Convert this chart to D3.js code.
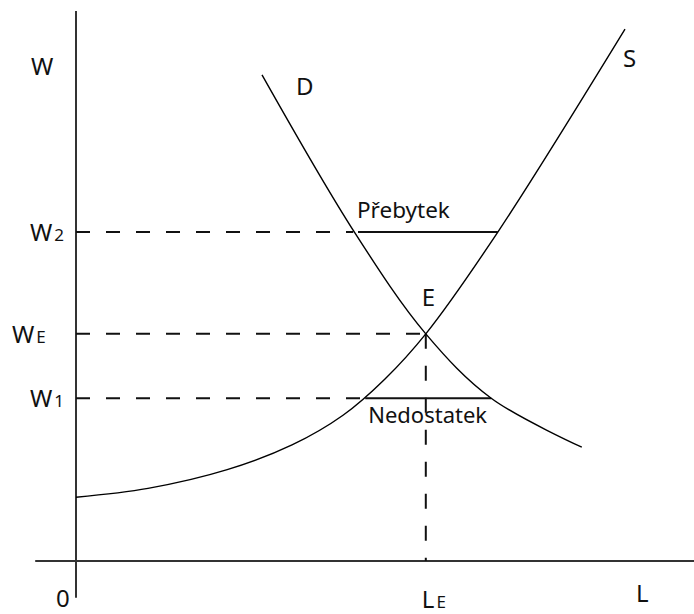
<!DOCTYPE html>
<html>
<head>
<meta charset="utf-8">
<script src="https://cdn.jsdelivr.net/npm/d3@7"></script>
<style>
    body { margin: 0; background: #fff; }
    text { font-family: "Noto Sans", "Open Sans", sans-serif; fill: #111; }
</style>
</head>
<body>
<div id="chart-area"></div>
<script>
/*
*    labour market: supply / demand
*/

// supply curve S (L, W)
const supplyL = [0, 12, 25.2, 36, 44.5, 51.5, 58.3, 70.3, 91.5];
const supplyW = [11.6, 13.2, 16.6, 21.1, 26.5, 33.1, 41.3, 59.8, 96.7];

// demand curve D (L, W)
const demandL = [31, 46.4, 58.3, 69.2, 84.3];
const demandW = [88.4, 59.8, 41.3, 29.6, 20.7];

// wage levels and their labels
const wageNames = ["W", "W", "W"];
const wageValues = [59.8, 41.3, 29.6];
const wageSubs = ["2", "E", "1"];

// equilibrium
const eqL = 58.3;
const eqW = 41.3;

// surplus (W2) and shortage (W1) segments: [from L, to L]
const surplusL = [47.0, 70.3];
const shortageL = [48.2, 69.2];
const gapLabels = ["Přebytek", "Nedostatek"];

const width = 694;
const height = 614;

const svg = d3.select("#chart-area").append("svg")
    .attr("width", width)
    .attr("height", height);

const x = d3.scaleLinear()
    .domain([0, 100])
    .range([76, 676]);

const y = d3.scaleLinear()
    .domain([0, 100])
    .range([561, 11]);

// axes
svg.append("line")
    .attr("x1", x(-6.8)).attr("x2", x(103))
    .attr("y1", y(0)).attr("y2", y(0))
    .attr("stroke", "#333").attr("stroke-width", 2);

svg.append("line")
    .attr("x1", x(0)).attr("x2", x(0))
    .attr("y1", y(-6.7)).attr("y2", y(100))
    .attr("stroke", "#333").attr("stroke-width", 2);

// dashed guides
const dashEnds = [surplusL[0] - 0.8, eqL, shortageL[0]];

wageValues.forEach((w, i) => {
    svg.append("line")
        .attr("x1", x(0)).attr("x2", x(dashEnds[i]))
        .attr("y1", y(w)).attr("y2", y(w))
        .attr("stroke", "#111").attr("stroke-width", 2)
        .attr("stroke-dasharray", "14,16");
});

svg.append("line")
    .attr("x1", x(eqL)).attr("x2", x(eqL))
    .attr("y1", y(eqW)).attr("y2", y(0))
    .attr("stroke", "#111").attr("stroke-width", 2)
    .attr("stroke-dasharray", "15,17");

// surplus / shortage
[surplusL, shortageL].forEach((seg, i) => {
    const w = i === 0 ? wageValues[0] : wageValues[2];
    svg.append("line")
        .attr("x1", x(seg[0])).attr("x2", x(seg[1]))
        .attr("y1", y(w)).attr("y2", y(w))
        .attr("stroke", "#111").attr("stroke-width", 2);
});

// curves
const line = d3.line()
    .x(d => x(d[0]))
    .y(d => y(d[1]))
    .curve(d3.curveCatmullRom.alpha(0.5));

svg.append("path")
    .datum(d3.zip(supplyL, supplyW))
    .attr("d", line)
    .attr("fill", "none")
    .attr("stroke", "#000")
    .attr("stroke-width", 1.4);

svg.append("path")
    .datum(d3.zip(demandL, demandW))
    .attr("d", line)
    .attr("fill", "none")
    .attr("stroke", "#000")
    .attr("stroke-width", 1.4);

// labels
const bigFont = 24;
const subFont = 17;

function label(px, py, main, sub) {
    const t = svg.append("text")
        .attr("x", px)
        .attr("y", py)
        .style("font-size", bigFont + "px")
        .text(main);
    if (sub) {
        t.append("tspan")
            .attr("dx", 2)
            .style("font-size", subFont + "px")
            .text(sub);
    }
    return t;
}

label(31, 75, "W");
const wageX = [30, 12, 30];
wageValues.forEach((w, i) => {
    label(wageX[i], y(w) + 9, wageNames[i], wageSubs[i]);
});

label(x(0) - 20, 607, "0");
label(x(eqL) - 4, 608, "L", "E");
label(636, 602, "L");

label(x(demandL[0]) + 34, 95, "D");
label(x(supplyL[supplyL.length - 1]) - 2, 67, "S");
label(x(eqL) - 4, y(eqW) - 28, "E");

svg.append("text")
    .attr("x", x(surplusL[0]) - 1)
    .attr("y", y(wageValues[0]) - 14)
    .style("font-size", "22.5px")
    .text(gapLabels[0]);

svg.append("text")
    .attr("x", x(shortageL[0]) + 3)
    .attr("y", y(wageValues[2]) + 25)
    .style("font-size", "22px")
    .text(gapLabels[1]);
</script>
</body>
</html>
